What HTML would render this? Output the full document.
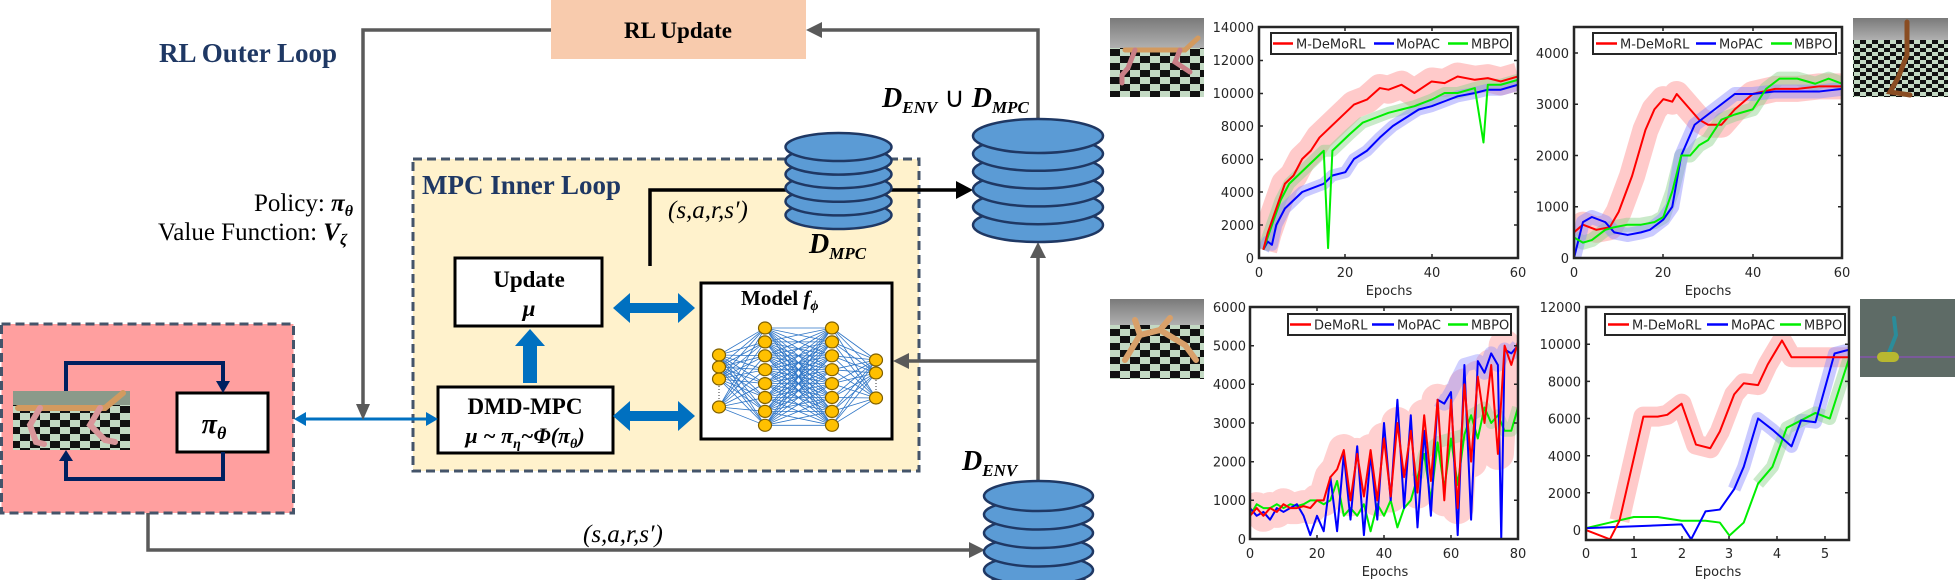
<!DOCTYPE html>
<html><head><meta charset="utf-8"><style>
html,body{margin:0;padding:0;background:#fff;}
svg{display:block;}
</style></head><body>
<svg width="1955" height="580" viewBox="0 0 1955 580" xmlns="http://www.w3.org/2000/svg" font-family="Liberation Serif, serif">
<defs>
<pattern id="chk" width="20" height="14" patternUnits="userSpaceOnUse">
<rect width="20" height="14" fill="#c3d9c3"/><rect width="10" height="7" fill="#111"/><rect x="10" y="7" width="10" height="7" fill="#111"/>
</pattern>
<pattern id="chk2" width="12" height="8" patternUnits="userSpaceOnUse">
<rect width="12" height="8" fill="#c3d9c3"/><rect width="6" height="4" fill="#111"/><rect x="6" y="4" width="6" height="4" fill="#111"/>
</pattern>
<linearGradient id="sky" x1="0" y1="0" x2="0" y2="1"><stop offset="0" stop-color="#7a7a7a"/><stop offset="1" stop-color="#b0b0b0"/></linearGradient>
<clipPath id="c1"><rect x="1259" y="27" width="259" height="231"/></clipPath>
<clipPath id="c2"><rect x="1574" y="27" width="268" height="231"/></clipPath>
<clipPath id="c3"><rect x="1250" y="307" width="268" height="232"/></clipPath>
<clipPath id="c4"><rect x="1586" y="307" width="263" height="233"/></clipPath>
</defs>

<!-- RL update box -->
<rect x="551" y="0" width="255" height="59" fill="#f8cbad"/>
<text x="678" y="38" font-size="23" font-weight="bold" text-anchor="middle" fill="#000">RL Update</text>
<text x="159" y="62" font-size="27" font-weight="bold" fill="#1f3864">RL Outer Loop</text>

<!-- Policy text -->
<text x="353" y="211" font-size="25" text-anchor="end">Policy: <tspan font-weight="bold" font-style="italic">π</tspan><tspan font-weight="bold" font-style="italic" font-size="16" dy="5">θ</tspan></text>
<text x="158" y="240" font-size="25">Value Function: <tspan font-weight="bold" font-style="italic">V</tspan><tspan font-weight="bold" font-style="italic" font-size="16" dy="5">ζ</tspan></text>

<!-- MPC inner loop -->
<rect x="413" y="159" width="506" height="312" fill="#fff2cc" stroke="#44546a" stroke-width="3" stroke-dasharray="9,5"/>
<text x="422" y="194" font-size="27" font-weight="bold" fill="#1f3864">MPC Inner Loop</text>

<!-- black line -->
<path d="M650,266 V190 H957" stroke="#000" stroke-width="3.5" fill="none"/>
<polygon points="973,190 956,181 956,199" fill="#000"/>
<text x="668" y="218" font-size="25" font-style="italic">(s,a,r,s′)</text>

<!-- Update mu -->
<rect x="455" y="258" width="147" height="68" fill="#fff" stroke="#000" stroke-width="3"/>
<text x="529" y="287" font-size="23" font-weight="bold" text-anchor="middle">Update</text>
<text x="529" y="316" font-size="23" font-weight="bold" font-style="italic" text-anchor="middle">μ</text>

<!-- DMD-MPC -->
<rect x="438" y="387" width="175" height="66" fill="#fff" stroke="#000" stroke-width="3"/>
<text x="525" y="414" font-size="23" font-weight="bold" text-anchor="middle">DMD-MPC</text>
<text x="525" y="443" font-size="22" font-weight="bold" font-style="italic" text-anchor="middle">μ ~ π<tspan font-size="14" dy="5">η</tspan><tspan dy="-5">~Φ(π</tspan><tspan font-size="14" dy="5">θ</tspan><tspan dy="-5">)</tspan></text>

<!-- blue arrows -->
<g fill="#0070c0">
<polygon points="523,383 537,383 537,346 545,346 530,329 515,346 523,346"/>
<polygon points="613,308 630,293 630,303 678,303 678,293 695,308 678,323 678,313 630,313 630,323"/>
<polygon points="613,416 630,401 630,411 678,411 678,401 695,416 678,431 678,421 630,421 630,431"/>
<polygon points="294,419 306,412 306,426"/>
<polygon points="438,419 426,412 426,426"/>
</g>
<line x1="304" y1="419" x2="428" y2="419" stroke="#0070c0" stroke-width="3"/>

<!-- Model box -->
<rect x="701" y="283" width="191" height="156" fill="#fff" stroke="#000" stroke-width="3"/>
<text x="741" y="305" font-size="21" font-weight="bold">Model <tspan font-style="italic">f</tspan><tspan font-style="italic" font-size="14" dy="5">ϕ</tspan></text>
<g id="nn" stroke="#2e75c6" stroke-width="0.8"></g>
<g id="nodes" fill="#ffc000" stroke="#7f5f00" stroke-width="1.2"></g>
<g stroke="#333" stroke-width="1" stroke-dasharray="1,2">
<line x1="719" y1="386" x2="719" y2="401"/><line x1="876" y1="380" x2="876" y2="392"/>
</g>

<!-- gray connectors -->
<g stroke="#5a5a5a" stroke-width="3.5" fill="none">
<path d="M551,30 H363 V405"/>
<path d="M1038,119 V30 H820"/>
<path d="M1038,481 V256"/>
<path d="M1038,361 H907"/>
<path d="M148,513 V550 H970"/>
</g>
<g fill="#5a5a5a">
<polygon points="356,404 370,404 363,420"/>
<polygon points="806,30 822,22 822,38"/>
<polygon points="1038,242 1030,258 1046,258"/>
<polygon points="893,361 909,353 909,369"/>
<polygon points="985,550 969,542 969,558"/>
</g>

<!-- DBs -->
<g id="dbs" fill="#5b9bd5" stroke="#1f3864" stroke-width="2.5"></g>

<text x="882" y="107" font-size="28" font-weight="bold" font-style="italic">D<tspan font-size="17" dy="6">ENV</tspan><tspan dy="-6" font-style="normal" font-weight="normal"> ∪ </tspan>D<tspan font-size="17" dy="6">MPC</tspan></text>
<text x="809" y="253" font-size="28" font-weight="bold" font-style="italic">D<tspan font-size="17" dy="6">MPC</tspan></text>
<text x="962" y="470" font-size="28" font-weight="bold" font-style="italic">D<tspan font-size="17" dy="6">ENV</tspan></text>
<text x="583" y="542" font-size="25" font-style="italic">(s,a,r,s′)</text>

<!-- Red box -->
<rect x="1.5" y="324" width="292" height="189" fill="#ff9f9f" stroke="#44546a" stroke-width="3" stroke-dasharray="9,5"/>
<g>
<rect x="13" y="391" width="117" height="59" fill="url(#chk)"/>
<rect x="13" y="391" width="117" height="14" fill="#8a9a8a"/>
<path d="M18,408 H105 L123,393" stroke="#d39a5f" stroke-width="6" fill="none" stroke-linecap="round"/>
<path d="M40,408 L30,425 L36,442 L44,444" stroke="#d9969a" stroke-width="6" fill="none" stroke-linecap="round"/>
<path d="M100,408 L90,425 L105,440 L115,442" stroke="#d9969a" stroke-width="6" fill="none" stroke-linecap="round"/>
</g>
<rect x="177" y="393" width="91" height="59" fill="#fff" stroke="#000" stroke-width="3"/>
<text x="214" y="433" font-size="28" font-weight="bold" font-style="italic" text-anchor="middle">π<tspan font-size="18" dy="6">θ</tspan></text>
<g stroke="#002060" stroke-width="4" fill="none">
<path d="M66,391 V363 H223 V382"/>
<path d="M223,452 V479 H66 V460"/>
</g>
<g fill="#002060">
<polygon points="216,381 230,381 223,393"/>
<polygon points="59,461 73,461 66,450"/>
</g>

<!-- thumbnails -->
<g>
<rect x="1110" y="18" width="94" height="79" fill="url(#chk)"/>
<rect x="1110" y="18" width="94" height="30" fill="url(#sky)"/>
<path d="M1125,50 H1185 L1198,38" stroke="#d39a5f" stroke-width="5" fill="none" stroke-linecap="round"/>
<path d="M1135,50 L1128,68 L1122,75 L1122,83" stroke="#c97e86" stroke-width="5" fill="none" stroke-linecap="round"/>
<path d="M1180,50 L1175,62 L1190,72" stroke="#c97e86" stroke-width="5" fill="none" stroke-linecap="round"/>

<rect x="1853" y="18" width="95" height="79" fill="url(#chk2)"/>
<rect x="1853" y="18" width="95" height="22" fill="url(#sky)"/>
<path d="M1907,22 L1907,55 L1898,78 L1890,92 L1910,95" stroke="#8a4d22" stroke-width="5" fill="none" stroke-linecap="round"/>

<rect x="1110" y="299" width="94" height="80" fill="url(#chk)"/>
<rect x="1110" y="299" width="94" height="26" fill="url(#sky)"/>
<path d="M1125,360 L1140,335 L1160,330 L1185,345 L1196,360" stroke="#d8a06a" stroke-width="6" fill="none" stroke-linecap="round"/>
<path d="M1140,335 L1135,320 M1160,330 L1170,318" stroke="#d8a06a" stroke-width="6" fill="none" stroke-linecap="round"/>

<rect x="1860" y="299" width="95" height="78" fill="#5e6b66"/>
<line x1="1860" y1="357" x2="1955" y2="357" stroke="#7a5a9a" stroke-width="2"/>
<path d="M1894,318 L1896,335 L1888,355" stroke="#2b8c9a" stroke-width="4" fill="none" stroke-linecap="round"/>
<rect x="1877" y="352" width="22" height="10" rx="5" fill="#b8b830"/>
</g>

<!-- plots -->
<g font-family="DejaVu Sans, sans-serif" font-size="13" fill="#262626">
<!-- plot1 -->
<g clip-path="url(#c1)" fill="none" stroke-linejoin="round">
<g transform="translate(1259,258) scale(4.317,-16.5)">
<polyline vector-effect="non-scaling-stroke" stroke="#ff8a8a" stroke-opacity="0.45" stroke-width="28" points="1,0.5 2,1.5 4,3 6,4.5 8,5 10,6 12,6.5 14,7.3 16,7.8 18,8.3 20,8.8 22,9.3 25,9.6 28,10.3 30,10.2 33,10.5 36,10 40,10.7 43,10.6 46,11 50,10.8 53,10.9 56,10.7 60,11"/>
<polyline vector-effect="non-scaling-stroke" stroke="#8ad08a" stroke-opacity="0.45" stroke-width="12" points="1,0.5 3,2 5,3.5 7,4.5 9,5 11,5.5 13,6 15,6.5 17,6.5 19,7 21,7.5 24,8.2 27,8.5 30,8.8 33,9 36,9.2 40,9.6 43,10 46,10 50,10.3 53,10.5 56,10.5 60,10.8"/>
<polyline vector-effect="non-scaling-stroke" stroke="#8a8aff" stroke-opacity="0.45" stroke-width="12" points="1,0.5 2,1 3,0.8 4,2 6,3 8,3.5 10,4 12,4.2 15,4.5 17,5 20,5.2 22,6 25,6.5 28,7.3 31,8 34,8.5 37,9 40,9.2 43,9.5 46,9.8 50,10 53,10.2 56,10.2 60,10.5"/>
<polyline vector-effect="non-scaling-stroke" stroke="#0000ff" stroke-width="2" points="1,0.5 2,1 3,0.8 4,2 6,3 8,3.5 10,4 12,4.2 15,4.5 17,5 20,5.2 22,6 25,6.5 28,7.3 31,8 34,8.5 37,9 40,9.2 43,9.5 46,9.8 50,10 53,10.2 56,10.2 60,10.5"/>
<polyline vector-effect="non-scaling-stroke" stroke="#00ee00" stroke-width="2" points="1,0.5 3,2 5,3.5 7,4.5 9,5 11,5.5 13,6 15,6.5 16,0.6 17,6.5 19,7 21,7.5 24,8.2 27,8.5 30,8.8 33,9 36,9.2 40,9.6 43,10 46,10 50,10.3 52,7 53,10.5 56,10.5 60,10.8"/>
<polyline vector-effect="non-scaling-stroke" stroke="#ff0000" stroke-width="2" points="1,0.5 2,1.5 4,3 6,4.5 8,5 10,6 12,6.5 14,7.3 16,7.8 18,8.3 20,8.8 22,9.3 25,9.6 28,10.3 30,10.2 33,10.5 36,10 40,10.7 43,10.6 46,11 50,10.8 53,10.9 56,10.7 60,11"/>
</g></g>
<rect x="1259" y="27" width="259" height="231" fill="none" stroke="#262626" stroke-width="2.5"/>
<g stroke="#262626" stroke-width="1.5">
<path d="M1259,225h4M1259,192h4M1259,159.5h4M1259,126h4M1259,93.5h4M1259,60.5h4M1518,225h-4M1518,192h-4M1518,159.5h-4M1518,126h-4M1518,93.5h-4M1518,60.5h-4M1345,258v-4M1432,258v-4M1345,27v4M1432,27v4"/>
</g>
<g text-anchor="end">
<text x="1254" y="263">0</text><text x="1254" y="230">2000</text><text x="1254" y="197">4000</text><text x="1254" y="164">6000</text><text x="1254" y="131">8000</text><text x="1254" y="98">10000</text><text x="1254" y="65">12000</text><text x="1254" y="32">14000</text>
</g>
<g text-anchor="middle">
<text x="1259" y="277">0</text><text x="1345" y="277">20</text><text x="1432" y="277">40</text><text x="1518" y="277">60</text>
<text x="1389" y="295">Epochs</text>
</g>
<rect x="1271" y="33" width="240" height="21" fill="#fff" stroke="#262626" stroke-width="2"/>
<g stroke-width="2.5"><line x1="1273" y1="43.5" x2="1293" y2="43.5" stroke="#f00"/><line x1="1374" y1="43.5" x2="1394" y2="43.5" stroke="#00f"/><line x1="1448" y1="43.5" x2="1468" y2="43.5" stroke="#0e0"/></g>
<text x="1296" y="48.5">M-DeMoRL</text><text x="1396" y="48.5">MoPAC</text><text x="1471" y="48.5">MBPO</text>

<!-- plot2 -->
<g clip-path="url(#c2)" fill="none" stroke-linejoin="round">
<g transform="translate(1574,258) scale(4.467,-51.25)">
<polyline vector-effect="non-scaling-stroke" stroke="#ff8a8a" stroke-opacity="0.45" stroke-width="26" points="0,0.5 2,0.65 5,0.55 8,0.6 10,0.9 13,1.6 16,2.5 18,2.9 20,3.1 22,3.05 23,3.2 25,3 28,2.7 30,2.6 33,2.6 36,2.9 40,3.2 45,3.3 50,3.3 55,3.35 60,3.35"/>
<polyline vector-effect="non-scaling-stroke" stroke="#8ad08a" stroke-opacity="0.45" stroke-width="14" points="0,0.4 2,0.3 4,0.35 7,0.55 9,0.6 12,0.65 15,0.65 18,0.7 20,0.8 22,1.3 24,2 26,2 28,2.2 30,2.3 33,2.7 36,2.8 40,2.9 43,3.3 46,3.5 50,3.5 54,3.4 57,3.5 60,3.4"/>
<polyline vector-effect="non-scaling-stroke" stroke="#8a8aff" stroke-opacity="0.45" stroke-width="14" points="0,0 2,0.7 4,0.8 7,0.7 9,0.5 12,0.45 15,0.5 17,0.55 20,0.75 22,1 24,2 27,2.6 30,2.8 33,3 36,3.2 40,3.2 45,3.25 50,3.25 55,3.25 60,3.3"/>
<polyline vector-effect="non-scaling-stroke" stroke="#ff0000" stroke-width="2" points="0,0.5 2,0.65 5,0.55 8,0.6 10,0.9 13,1.6 16,2.5 18,2.9 20,3.1 22,3.05 23,3.2 25,3 28,2.7 30,2.6 33,2.6 36,2.9 40,3.2 45,3.3 50,3.3 55,3.35 60,3.35"/>
<polyline vector-effect="non-scaling-stroke" stroke="#0000ff" stroke-width="2" points="0,0 2,0.7 4,0.8 7,0.7 9,0.5 12,0.45 15,0.5 17,0.55 20,0.75 22,1 24,2 27,2.6 30,2.8 33,3 36,3.2 40,3.2 45,3.25 50,3.25 55,3.25 60,3.3"/>
<polyline vector-effect="non-scaling-stroke" stroke="#00ee00" stroke-width="2" points="0,0.4 2,0.3 4,0.35 7,0.55 9,0.6 12,0.65 15,0.65 18,0.7 20,0.8 22,1.3 24,2 26,2 28,2.2 30,2.3 33,2.7 36,2.8 40,2.9 43,3.3 46,3.5 50,3.5 54,3.4 57,3.5 60,3.4"/>
</g></g>
<rect x="1574" y="27" width="268" height="231" fill="none" stroke="#262626" stroke-width="2.5"/>
<g stroke="#262626" stroke-width="1.5">
<path d="M1574,206.75h4M1574,155.5h4M1574,104.25h4M1574,53h4M1842,206.75h-4M1842,155.5h-4M1842,104.25h-4M1842,53h-4M1663,258v-4M1753,258v-4M1663,27v4M1753,27v4"/>
</g>
<g text-anchor="end">
<text x="1569" y="263">0</text><text x="1569" y="211.5">1000</text><text x="1569" y="160.5">2000</text><text x="1569" y="109">3000</text><text x="1569" y="58">4000</text>
</g>
<g text-anchor="middle">
<text x="1574" y="277">0</text><text x="1663" y="277">20</text><text x="1753" y="277">40</text><text x="1842" y="277">60</text>
<text x="1708" y="295">Epochs</text>
</g>
<rect x="1593" y="33" width="243" height="21" fill="#fff" stroke="#262626" stroke-width="2"/>
<g stroke-width="2.5"><line x1="1596" y1="43.5" x2="1617" y2="43.5" stroke="#f00"/><line x1="1696" y1="43.5" x2="1716" y2="43.5" stroke="#00f"/><line x1="1771" y1="43.5" x2="1792" y2="43.5" stroke="#0e0"/></g>
<text x="1620" y="48.5">M-DeMoRL</text><text x="1719" y="48.5">MoPAC</text><text x="1794" y="48.5">MBPO</text>

<!-- plot3 -->
<g clip-path="url(#c3)" fill="none" stroke-linejoin="round">
<g transform="translate(1250,539) scale(3.35,-38.67)">
<polyline vector-effect="non-scaling-stroke" stroke="#ff8a8a" stroke-opacity="0.4" stroke-width="32" points="0,0.6 2,0.8 4,0.6 6,0.8 8,0.7 10,0.9 12,0.8 14,0.8 16,0.85 18,0.8 20,1 22,1 24,1.6 26,1.8 28,2.3 30,1 32,2.2 34,1.1 36,2.3 38,1 40,2.6 42,1.1 44,3 46,1.6 48,2.8 50,1.2 52,3.2 54,1.5 56,3.6 58,1 60,3.6 62,0.8 64,4 66,2 68,4.2 70,3 72,4.5 74,2.2 76,5 78,4.5 80,5.1"/>
<polyline vector-effect="non-scaling-stroke" stroke="#8a8aff" stroke-opacity="0.4" stroke-width="14" points="56,3.6 58,3.5 60,3.8 64,4.5 68,4.6 70,4.3 72,4.8 74,4.5 76,4.9 78,4.8 80,5"/>
<polyline vector-effect="non-scaling-stroke" stroke="#8ad08a" stroke-opacity="0.4" stroke-width="12" points="50,1.6 52,2.2 56,2.5 60,2.6 64,2.7 66,3.2 70,3.4 72,3 74,3.2 76,2.8 78,2.8 80,3.4"/>
<polyline vector-effect="non-scaling-stroke" stroke="#00ee00" stroke-width="2" points="0,0.6 2,0.9 4,0.8 6,0.8 8,0.9 10,0.8 12,0.9 14,0.85 16,0.9 18,1 20,1 22,0.9 24,1 26,1.5 28,0.6 30,0.8 32,0.6 34,0.9 36,0.2 38,0.9 40,0.6 42,1 44,0.3 46,0.8 48,1 50,1.6 52,2.2 54,1 56,2.5 58,1.3 60,2.6 62,1.4 64,2.7 66,3.2 68,2.6 70,3.4 72,3 74,3.2 76,2.8 78,2.8 80,3.4"/>
<polyline vector-effect="non-scaling-stroke" stroke="#0000ff" stroke-width="2" points="0,0.8 2,0.6 4,0.7 6,0.5 8,0.8 10,0.7 12,0.8 14,0.9 16,0.6 18,0.1 20,0.6 22,0.2 24,1.6 26,0.2 28,2.2 30,0.5 32,2.4 34,0.1 36,2.2 38,0.5 40,3 42,1 44,3.6 46,0.8 48,3.2 50,0.3 52,2.8 54,0.6 56,3.6 58,3.5 60,3.8 62,0.1 64,4.5 66,0.5 68,4.6 70,4.3 72,4.8 74,4.5 75,0 76,4.9 78,4.8 80,5"/>
<polyline vector-effect="non-scaling-stroke" stroke="#ff0000" stroke-width="2" points="0,0.6 2,0.8 4,0.6 6,0.8 8,0.7 10,0.9 12,0.8 14,0.8 16,0.85 18,0.8 20,1 22,1 24,1.6 26,1.8 28,2.3 30,1 32,2.2 34,1.1 36,2.3 38,1 40,2.6 42,1.1 44,3 46,1.6 48,2.8 50,1.2 52,3.2 54,1.5 56,3.6 58,1 60,3.6 62,0.8 64,4 66,2 68,4.2 70,3 72,4.5 74,2.2 76,5 78,4.5 80,5.1"/>
</g></g>
<rect x="1250" y="307" width="268" height="232" fill="none" stroke="#262626" stroke-width="2.5"/>
<g stroke="#262626" stroke-width="1.5">
<path d="M1250,500.3h4M1250,461.7h4M1250,423h4M1250,384.3h4M1250,345.7h4M1518,500.3h-4M1518,461.7h-4M1518,423h-4M1518,384.3h-4M1518,345.7h-4M1317,539v-4M1384,539v-4M1451,539v-4M1317,307v4M1384,307v4M1451,307v4"/>
</g>
<g text-anchor="end">
<text x="1246" y="544">0</text><text x="1246" y="505">1000</text><text x="1246" y="466.5">2000</text><text x="1246" y="428">3000</text><text x="1246" y="389">4000</text><text x="1246" y="350.5">5000</text><text x="1246" y="312">6000</text>
</g>
<g text-anchor="middle">
<text x="1250" y="558">0</text><text x="1317" y="558">20</text><text x="1384" y="558">40</text><text x="1451" y="558">60</text><text x="1518" y="558">80</text>
<text x="1385" y="576">Epochs</text>
</g>
<rect x="1288" y="314" width="223" height="21" fill="#fff" stroke="#262626" stroke-width="2"/>
<g stroke-width="2.5"><line x1="1290" y1="324.5" x2="1311" y2="324.5" stroke="#f00"/><line x1="1372" y1="324.5" x2="1394" y2="324.5" stroke="#00f"/><line x1="1448" y1="324.5" x2="1468" y2="324.5" stroke="#0e0"/></g>
<text x="1314" y="329.5">DeMoRL</text><text x="1397" y="329.5">MoPAC</text><text x="1471" y="329.5">MBPO</text>

<!-- plot4 -->
<g clip-path="url(#c4)" fill="none" stroke-linejoin="round">
<g transform="translate(1586,530) scale(47.8,-18.58)">
<polyline vector-effect="non-scaling-stroke" stroke="#ff8a8a" stroke-opacity="0.45" stroke-width="20" points="0.7,0.5 1.2,6.1 1.5,6.1 1.7,6.2 2,6.8 2.3,4.6 2.6,4.4 2.8,5.3 3.1,7.3 3.3,7.9 3.6,7.8 3.8,8.9 4.1,10.2 4.3,9.3 5.5,9.3"/>
<polyline vector-effect="non-scaling-stroke" stroke="#8a8aff" stroke-opacity="0.45" stroke-width="13" points="3.1,2.2 3.3,3.4 3.6,6 3.9,5.4 4.3,4.5 4.5,5.9 4.8,5.8 5.2,9.5 5.5,9.7"/>
<polyline vector-effect="non-scaling-stroke" stroke="#8ad08a" stroke-opacity="0.45" stroke-width="13" points="3.6,2.5 3.9,3.4 4.2,5.5 4.5,5.9 4.8,6.3 5.1,6 5.5,9.2"/>
<polyline vector-effect="non-scaling-stroke" stroke="#00ee00" stroke-width="2" points="0,0.1 0.5,0.4 1,0.7 1.5,0.7 2,0.5 2.5,0.5 2.8,0.4 3,-0.3 3.3,0.4 3.6,2.5 3.9,3.4 4.2,5.5 4.5,5.9 4.8,6.3 5.1,6 5.5,9.2"/>
<polyline vector-effect="non-scaling-stroke" stroke="#0000ff" stroke-width="2" points="0,0.1 2,0.3 2.2,-0.5 2.5,1 2.8,1.1 3.1,2.2 3.3,3.4 3.6,6 3.9,5.4 4.3,4.5 4.5,5.9 4.8,5.8 5.2,9.5 5.5,9.7"/>
<polyline vector-effect="non-scaling-stroke" stroke="#ff0000" stroke-width="2" points="0,0 0.5,-0.5 0.7,0.5 1.2,6.1 1.5,6.1 1.7,6.2 2,6.8 2.3,4.6 2.6,4.4 2.8,5.3 3.1,7.3 3.3,7.9 3.6,7.8 3.8,8.9 4.1,10.2 4.3,9.3 5.5,9.3"/>
</g></g>
<rect x="1586" y="307" width="263" height="233" fill="none" stroke="#262626" stroke-width="2.5"/>
<g stroke="#262626" stroke-width="1.5">
<path d="M1586,492.8h4M1586,455.7h4M1586,418.5h4M1586,381.4h4M1586,344.2h4M1849,492.8h-4M1849,455.7h-4M1849,418.5h-4M1849,381.4h-4M1849,344.2h-4M1634,540v-4M1682,540v-4M1729,540v-4M1777,540v-4M1825,540v-4"/>
</g>
<g text-anchor="end">
<text x="1581" y="535">0</text><text x="1581" y="498">2000</text><text x="1581" y="461">4000</text><text x="1581" y="423.5">6000</text><text x="1581" y="386.5">8000</text><text x="1581" y="349">10000</text><text x="1581" y="312">12000</text>
</g>
<g text-anchor="middle">
<text x="1586" y="558">0</text><text x="1634" y="558">1</text><text x="1682" y="558">2</text><text x="1729" y="558">3</text><text x="1777" y="558">4</text><text x="1825" y="558">5</text>
<text x="1718" y="576">Epochs</text>
</g>
<rect x="1605" y="314" width="240" height="21" fill="#fff" stroke="#262626" stroke-width="2"/>
<g stroke-width="2.5"><line x1="1608" y1="324.5" x2="1629" y2="324.5" stroke="#f00"/><line x1="1707" y1="324.5" x2="1728" y2="324.5" stroke="#00f"/><line x1="1780" y1="324.5" x2="1801" y2="324.5" stroke="#0e0"/></g>
<text x="1632" y="329.5">M-DeMoRL</text><text x="1731" y="329.5">MoPAC</text><text x="1804" y="329.5">MBPO</text>
</g>
</svg>
<script>
(function(){
var NS="http://www.w3.org/2000/svg";
function el(t,a,p){var e=document.createElementNS(NS,t);for(var k in a)e.setAttribute(k,a[k]);p.appendChild(e);return e;}
var c1=[355,367,379,407],c2=[],c4=[360,373,398];
for(var i=0;i<8;i++)c2.push(328+i*13.9);
var cols=[[719,c1],[765,c2],[832,c2],[876,c4]];
var nn=document.getElementById('nn'),nd=document.getElementById('nodes');
for(var k=0;k<3;k++){var a=cols[k],b=cols[k+1];
a[1].forEach(function(y1){b[1].forEach(function(y2){el('line',{x1:a[0],y1:y1,x2:b[0],y2:y2},nn);});});}
cols.forEach(function(c){c[1].forEach(function(y){el('ellipse',{cx:c[0],cy:y,rx:6.5,ry:6},nd);});});
var db=document.getElementById('dbs');
function stack(cx,rx,ry,top,step,n){for(var i=n-1;i>=0;i--){el('ellipse',{cx:cx,cy:top+ry+i*step,rx:rx,ry:ry},db);}}
stack(838.5,53,14,133,13.6,6);
stack(1038,65,17,119,17.8,6);
stack(1038.5,54.5,15,481,18.5,6);
})();
</script>
</body></html>
